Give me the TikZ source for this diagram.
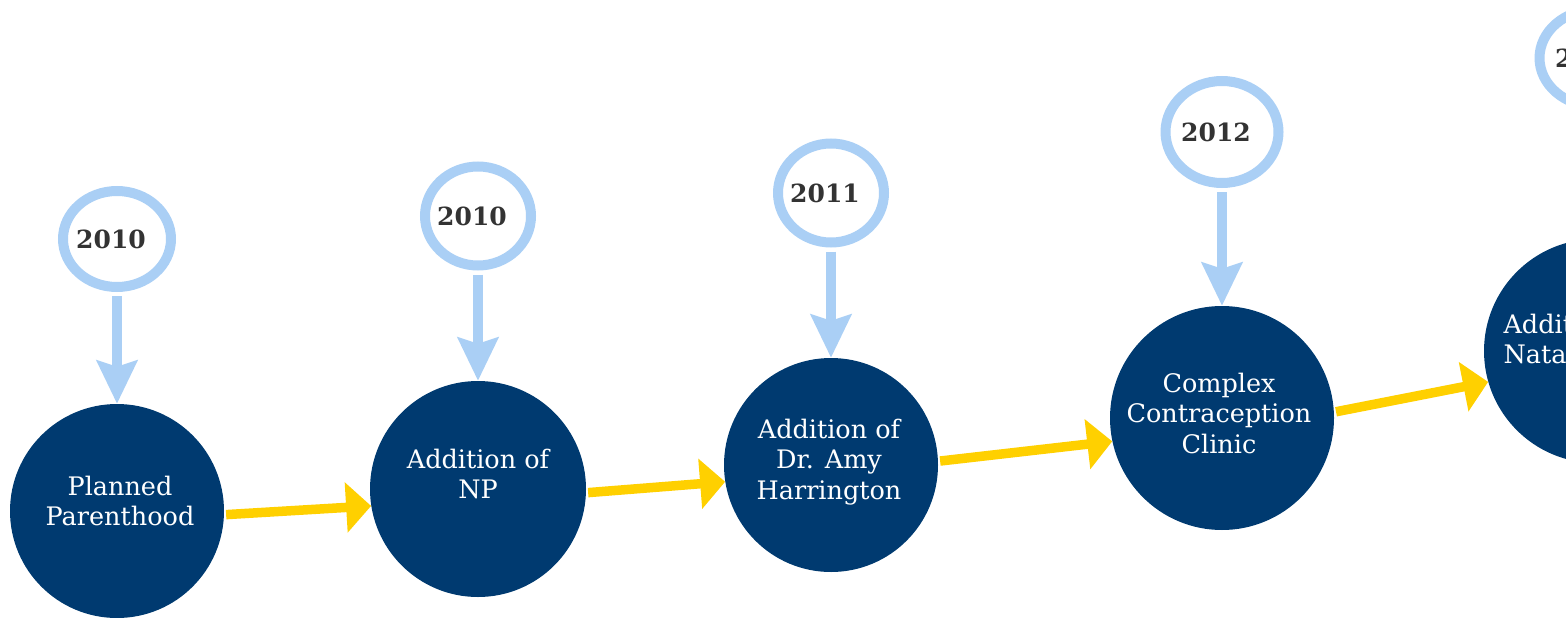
\documentclass[tikz,border=0pt]{standalone}
\usepackage{fontspec}
\setmainfont{DejaVu Serif}
\usetikzlibrary{arrows.meta,shapes.geometric}
\definecolor{navy}{HTML}{003A70}
\definecolor{skyring}{HTML}{AACFF5}
\definecolor{gold}{HTML}{FFD000}
\definecolor{yeargrey}{HTML}{333333}

\begin{document}
\begin{tikzpicture}[x=1pt,y=-1pt,
  stage/.style={circle,fill=navy,inner sep=0pt},
  stagetext/.style={text=white,align=center,font=\fontsize{25.5}{30.5}\selectfont},
  year/.style={ellipse,draw=skyring,line width=10pt,fill=white,inner sep=0pt,minimum width=106pt,minimum height=99pt},
  yeartext/.style={text=yeargrey,font=\fontsize{25}{30}\selectfont\bfseries,xshift=-6pt},
  yeararrow/.style={draw=skyring,line width=10pt,-{Stealth[length=43pt,width=40pt,inset=6pt]},shorten <=4pt},
  stagearrow/.style={draw=gold,line width=9.5pt,-{Triangle[length=25pt,width=49pt]},shorten <=2pt}]
\useasboundingbox (0,0) rectangle (1566,618);
\clip (0,0) rectangle (1566,618);

% stages
\node[stage,minimum size=214pt,label={[stagetext,xshift=3pt,yshift=10pt]center:{Planned\\Parenthood}}] (pp) at (117,511) {};
\node[stage,minimum size=216pt,label={[stagetext,yshift=15pt]center:{Addition of\\NP}}] (np) at (478,489) {};
\node[stage,minimum size=214pt,label={[stagetext,xshift=-2pt,yshift=3pt]center:{Addition of\\Dr. Amy\\Harrington}}] (amy) at (831,465) {};
\node[stage,minimum size=224pt,label={[stagetext,xshift=-3pt,yshift=5pt]center:{Complex\\Contraception\\Clinic}}] (ccc) at (1222,418) {};
\node[stage,minimum size=224pt] (nat) at (1596,351) {};
\node[stagetext,align=left,anchor=west] (nattext) at (1500,339) {Addition of Dr.\\Natalie};

% years
\node[year,minimum width=108pt,minimum height=96pt,label={[yeartext]center:2010}] (ppyear) at (117,239) {};
\node[year,label={[yeartext]center:2010}] (npyear) at (478,216) {};
\node[year,label={[yeartext]center:2011}] (amyyear) at (831,193) {};
\node[year,minimum width=113pt,minimum height=102pt,label={[yeartext]center:2012}] (cccyear) at (1222,132) {};
\node[year,minimum width=113pt,minimum height=97pt,label={[yeartext]center:2013}] (natyear) at (1596,58) {};

\draw[yeararrow] (ppyear.south) -- (pp.north);
\draw[yeararrow] (npyear.south) -- (np.north);
\draw[yeararrow] (amyyear.south) -- (amy.north);
\draw[yeararrow] (cccyear.south) -- (ccc.north);

\draw[stagearrow] (pp.-2) -- (np.189);
\draw[stagearrow] (np.-2) -- (amy.189);
\draw[stagearrow] (amy.2) -- (ccc.192);
\draw[stagearrow] (ccc.3) -- (nat.196);
\end{tikzpicture}
\end{document}
